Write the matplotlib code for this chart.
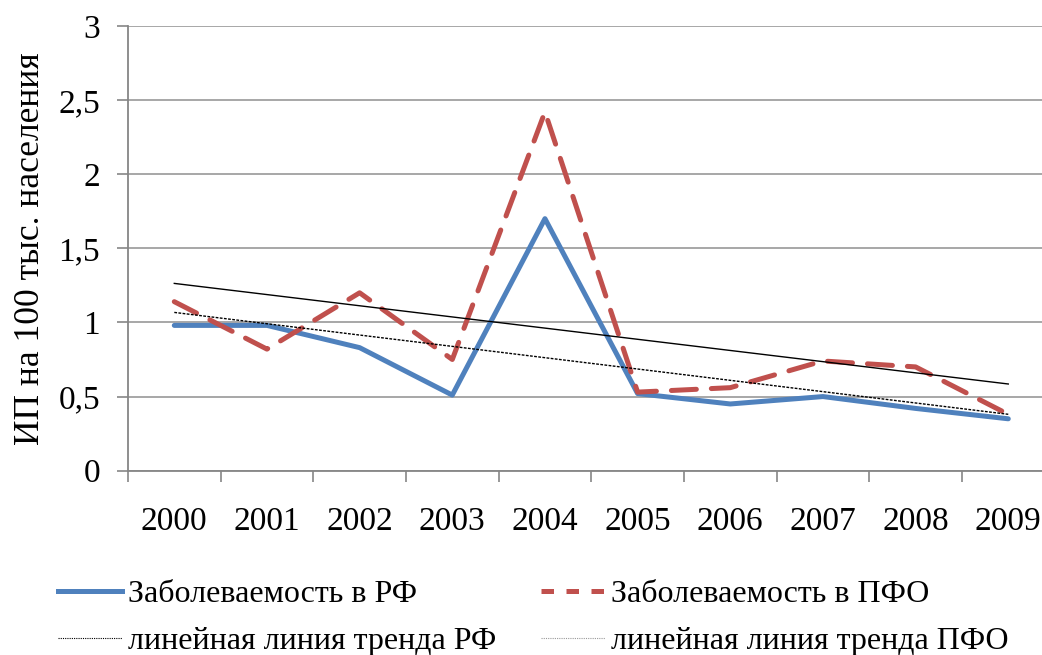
import matplotlib.pyplot as plt
import numpy as np
from matplotlib.lines import Line2D
from matplotlib.ticker import FixedLocator, FuncFormatter

plt.rcParams.update({
    "font.family": "serif",
    "font.serif": ["Liberation Serif", "DejaVu Serif"],
    "font.size": 23,
})

# данные
years = ["2000", "2001", "2002", "2003", "2004", "2005", "2006", "2007", "2008", "2009"]
rf = [0.98, 0.98, 0.83, 0.51, 1.70, 0.52, 0.45, 0.50, 0.42, 0.35]
pfo = [1.14, 0.82, 1.20, 0.75, 2.42, 0.53, 0.56, 0.74, 0.70, 0.38]

BLUE = "#4F81BD"
RED = "#C0504D"
GRID = "#A0A0A0"

x = np.arange(len(years))
trend_rf = np.polyval(np.polyfit(x, rf, 1), x)
trend_pfo = np.polyval(np.polyfit(x, pfo, 1), x)

fig = plt.figure(figsize=(10.42, 6.55), dpi=100)
ax = fig.add_axes([0.1228, 0.2814, 0.8893, 0.679])

ax.plot(x, rf, color=BLUE, linewidth=3.6, solid_capstyle="round", zorder=3)
ax.plot(x, pfo, color=RED, linewidth=3.6, linestyle=(0, (5, 3)),
        dash_capstyle="round", zorder=3)
ax.plot(x, trend_rf, color="black", linewidth=1.0, linestyle=(0, (2, 1)), zorder=4)
ax.plot(x, trend_pfo, color="black", linewidth=1.0, zorder=4)

ax.set_xlim(-0.5, len(years) - 0.5)
ax.set_ylim(0, 3)
ax.set_yticks([0, 0.5, 1, 1.5, 2, 2.5, 3])
ax.yaxis.set_major_formatter(FuncFormatter(lambda v, p: f"{v:g}".replace(".", ",")))

# деления на границах категорий, подписи по центру
ax.xaxis.set_major_locator(FixedLocator(np.arange(-0.5, len(years), 1.0)))
ax.xaxis.set_major_formatter(FuncFormatter(lambda v, p: ""))
ax.xaxis.set_minor_locator(FixedLocator(x))
ax.set_xticklabels(years, minor=True)
ax.tick_params(axis="x", which="major", direction="out", length=8, width=1.2, color="#868686")
ax.tick_params(axis="x", which="minor", length=0, pad=26, labelsize=24)
ax.tick_params(axis="y", direction="out", length=8, width=1.2, color="#868686", pad=12,
               labelsize=24)

ax.grid(axis="y", color=GRID, linewidth=1.3)
ax.set_axisbelow(True)
for s in ["top", "right"]:
    ax.spines[s].set_visible(False)
for s in ["left", "bottom"]:
    ax.spines[s].set_color("#868686")
    ax.spines[s].set_linewidth(1.3)

ax.set_ylabel("ИП на 100 тыс. населения", fontsize=25.5)
ax.yaxis.set_label_coords(-0.087, 0.5)

h_rf = Line2D([], [], color=BLUE, linewidth=3.6)
h_pfo = Line2D([], [], color=RED, linewidth=3.6, linestyle=(0, (2.5, 2.5)))
h_trf = Line2D([], [], color="black", linewidth=0.8, linestyle=(0, (1, 1)))
h_tpfo = Line2D([], [], color="#999999", linewidth=0.8, linestyle=(0, (1, 1)))
# порядок по столбцам: строка 1 — заболеваемость, строка 2 — тренды
handles = [h_rf, h_trf, h_pfo, h_tpfo]
labels = ["Заболеваемость в РФ", "линейная линия тренда РФ",
          "Заболеваемость в ПФО", "линейная линия тренда ПФО"]
fig.legend(handles, labels, loc="lower left", bbox_to_anchor=(0.028, -0.045),
           ncol=2, frameon=False, handlelength=2.0, handletextpad=0.2,
           columnspacing=1.4, labelspacing=0.55)

fig.savefig("out.png", dpi=100)
